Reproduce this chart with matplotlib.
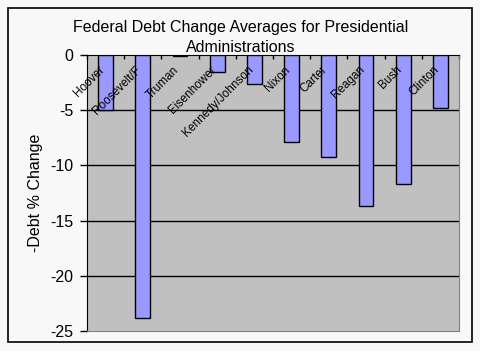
import matplotlib.pyplot as plt
import numpy as np
from matplotlib.patches import Rectangle

presidents = ["Hoover", "Roosevelt/F", "Truman", "Eisenhower", "Kennedy/Johnson",
              "Nixon", "Carter", "Reagan", "Bush", "Clinton"]
debt_change = [-5.0, -23.8, -0.1, -1.5, -2.6, -7.9, -9.2, -13.7, -11.7, -4.8]
yticks = [0, -5, -10, -15, -20, -25]

plt.rcParams['font.family'] = ['Liberation Sans', 'DejaVu Sans']

fig = plt.figure(figsize=(4.81, 3.51), dpi=100)
fig.patch.set_facecolor('#f8f8f8')

# outer chart frame
fig.add_artist(Rectangle((8/481, 9/351), 464/481, 334/351, transform=fig.transFigure,
                         fill=False, edgecolor='black', lw=1.2))

ax = fig.add_axes([87/481, 20/351, 372/481, 276/351])
ax.set_facecolor('#c0c0c0')

x = np.arange(len(presidents))
ax.bar(x, debt_change, width=0.4, color='#9999ff', edgecolor='black', lw=1, zorder=3)

ax.set_xlim(-0.5, len(presidents) - 0.5)
ax.set_ylim(-25, 0)
ax.set_yticks(yticks)
ax.set_yticklabels([str(v) for v in yticks], fontsize=11.5)
ax.tick_params(axis='y', direction='out', length=5, width=1, pad=5)

for v in yticks[1:-1]:
    ax.axhline(v, color='black', lw=1, zorder=1)

# category axis sits at zero (top)
ax.set_xticks(np.arange(len(presidents) + 1) - 0.5)
ax.set_xticklabels([])
ax.tick_params(axis='x', direction='in', length=3, width=1, top=True, bottom=False)
ax.xaxis.set_ticks_position('top')

for i, name in enumerate(presidents):
    ax.text(i - 0.2, -0.8, name, rotation=45, rotation_mode='anchor',
            ha='right', va='top', fontsize=8.5, zorder=4)

ax.spines['top'].set_color('black')
ax.spines['left'].set_color('black')
ax.spines['right'].set_color('#808080')
ax.spines['bottom'].set_color('#808080')

ax.set_ylabel('-Debt % Change', fontsize=11.5, labelpad=5)

fig.text(0.5, 331/351, 'Federal Debt Change Averages for Presidential\nAdministrations',
         ha='center', va='top', fontsize=11.5, linespacing=1.45)

fig.savefig('out.png', dpi=100, facecolor=fig.get_facecolor())
